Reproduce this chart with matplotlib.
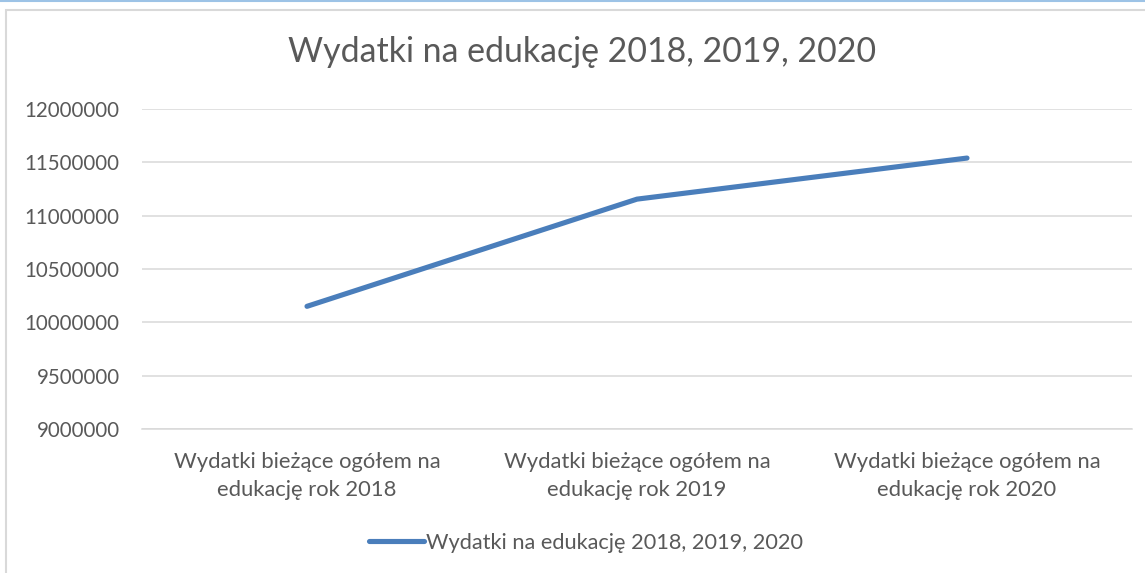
import matplotlib
matplotlib.use("Agg")
import matplotlib.pyplot as plt
from matplotlib.lines import Line2D
from matplotlib.patches import Rectangle

categories = [
    "Wydatki bieżące ogółem na\nedukację rok 2018",
    "Wydatki bieżące ogółem na\nedukację rok 2019",
    "Wydatki bieżące ogółem na\nedukację rok 2020",
]
values = [10150000, 11155000, 11540000]
y_ticks = [9000000, 9500000, 10000000, 10500000, 11000000, 11500000, 12000000]
series_name = "Wydatki na edukację 2018, 2019, 2020"
title = "Wydatki na edukację 2018, 2019, 2020"

W, H = 1145, 573
plt.rcParams["font.family"] = ["Lato", "DejaVu Sans"]
text_color = "#595959"
line_color = "#4a7ebb"

fig = plt.figure(figsize=(W / 100, H / 100), dpi=100)
fig.patch.set_facecolor("white")

# outer frame of the chart area
fig.add_artist(Line2D([0, 1], [1 - 0.8 / H, 1 - 0.8 / H], transform=fig.transFigure,
                      color="#9dc3e6", lw=1.5))
fig.add_artist(Rectangle((6 / W, -0.05), 1.2, 1 - 10 / H + 0.05, transform=fig.transFigure,
                         fill=False, edgecolor="#d9d9d9", lw=1.5))

left, right = 142 / W, 1132 / W
bottom, top = 1 - 429 / H, 1 - 109 / H
ax = fig.add_axes([left, bottom, right - left, top - bottom])
ax.set_facecolor("none")

x = list(range(len(categories)))
ax.plot(x, values, color=line_color, lw=3.7, solid_capstyle="round",
        solid_joinstyle="round", label=series_name, zorder=3)

ax.set_xlim(-0.5, len(categories) - 0.5)
ax.set_ylim(y_ticks[0], y_ticks[-1])
ax.set_yticks(y_ticks)
ax.set_yticklabels([str(v) for v in y_ticks])
ax.set_xticks(x)
ax.set_xticklabels(categories)
ax.grid(axis="y", color="#d9d9d9", lw=1.1)
ax.set_axisbelow(True)
for s in ["left", "right", "top"]:
    ax.spines[s].set_visible(False)
ax.spines["bottom"].set_color("#d9d9d9")
ax.spines["bottom"].set_linewidth(1.1)
ax.tick_params(axis="y", length=0, pad=16, labelsize=14.8, labelcolor=text_color)
ax.tick_params(axis="x", length=0, pad=16.5, labelsize=15.8, labelcolor=text_color)
for lbl in ax.get_xticklabels():
    lbl.set_linespacing(1.48)

fig.text(582 / W, 1 - 52 / H, title, ha="center", va="center",
         fontsize=24.4, color=text_color)

fig.legend(handles=[Line2D([], [], color=line_color, lw=3.7, solid_capstyle="round")],
           labels=[series_name], loc="center", bbox_to_anchor=(586 / W, 1 - 543 / H),
           frameon=False, fontsize=15.7, labelcolor=text_color,
           handlelength=2.55, handletextpad=0.1)

fig.savefig("out.png", dpi=100, facecolor="white")
